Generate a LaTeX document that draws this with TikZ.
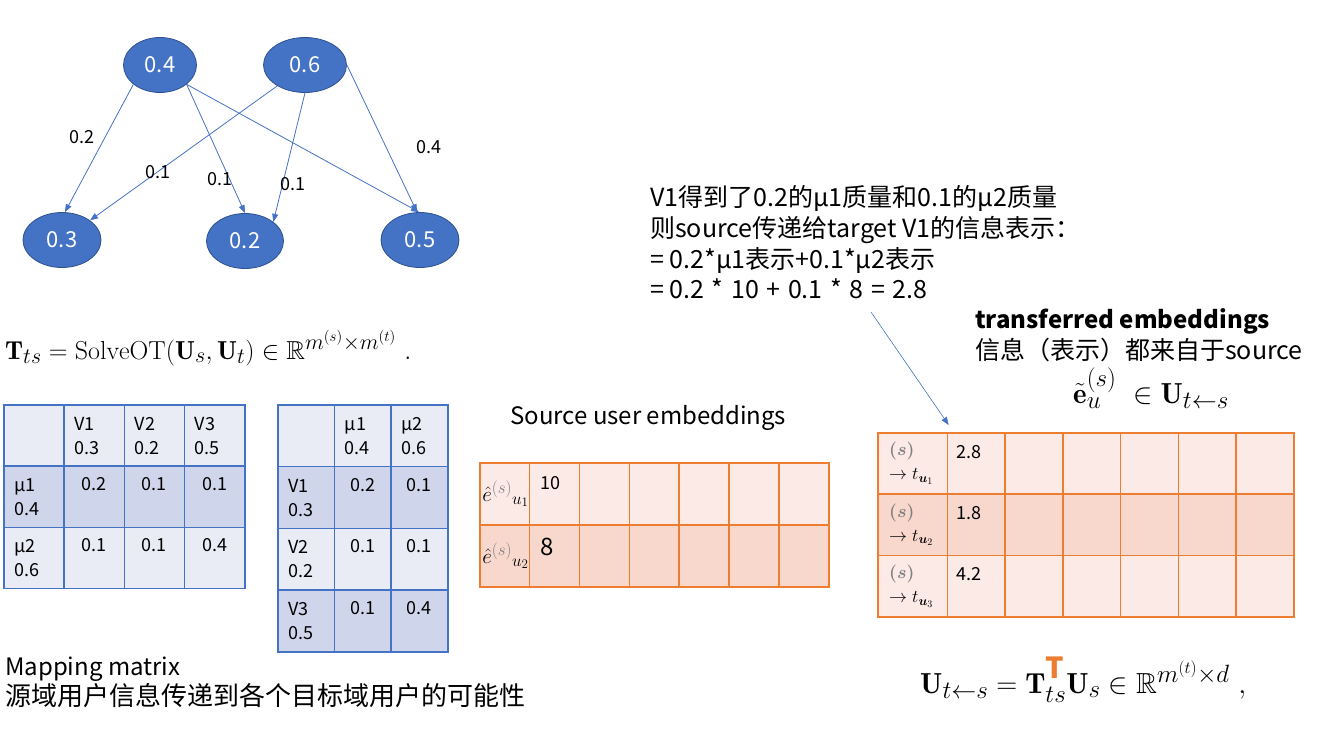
\RequirePackage{fix-cm}
\documentclass[tikz,border=0pt]{standalone}
\usepackage{amsmath,amssymb}
\usepackage{fontspec}
\newfontfamily\cjk{Noto Sans CJK SC}
\usetikzlibrary{arrows.meta, positioning, shapes.geometric}

\DeclareMathSizes{18}{18}{13}{10}
\DeclareMathSizes{21}{21}{17}{13}
\DeclareMathSizes{26}{26}{22}{15}
\DeclareMathSizes{29}{29}{25}{17}

\definecolor{massblue}{HTML}{4472C4}
\definecolor{massedge}{HTML}{2F528F}
\definecolor{bandlight}{HTML}{E9EBF5}
\definecolor{banddark}{HTML}{CFD5EA}
\definecolor{embedorange}{HTML}{ED7D31}
\definecolor{peachlight}{HTML}{FBEAE6}
\definecolor{peachdark}{HTML}{F8D7CD}
\definecolor{supgray}{HTML}{808080}

\begin{document}
\begin{tikzpicture}[
    x=1pt, y=-1pt,
    every node/.style={font=\cjk\fontsize{18}{22}\selectfont, inner sep=0pt},
    mass/.style={ellipse, draw=massedge, line width=0.8pt, fill=massblue, text=white, minimum width=78pt, minimum height=55pt, font=\cjk\fontsize{22}{26}\selectfont},
    flow/.style={-{Triangle[length=8pt, width=6pt]}, massblue, line width=0.8pt},
    weight/.style={font=\cjk\fontsize{18}{22}\selectfont},
    big/.style={font=\cjk\fontsize{24}{30}\selectfont, anchor=base west},
    formula/.style={font=\fontsize{26}{30}\selectfont, anchor=base west},
    otcell/.style={rectangle, draw=massblue, line width=1.5pt, anchor=north west},
    embcell/.style={rectangle, draw=embedorange, line width=1.5pt, anchor=north west},
    entry/.style={anchor=north west, align=left, font=\cjk\fontsize{18}{24}\selectfont},
    value/.style={anchor=north, font=\cjk\fontsize{18}{22}\selectfont}
]
\useasboundingbox (0,0) rectangle (1335,732);

% Source masses (top) and target masses (bottom)
\node[mass, minimum width=73pt] (mu1) at (160,65) {0.4};
\node[mass, minimum width=83pt] (mu2) at (305,65) {0.6};
\node[mass] (v1) at (62,240) {0.3};
\node[mass, minimum width=77pt] (v2) at (245,241) {0.2};
\node[mass] (v3) at (420,240) {0.5};

% Transport plan
\draw[flow] (mu1.216) -- (v1.84);
\draw[flow] (mu2.217) -- (v1.35);
\draw[flow] (mu1.324) -- (v2.90);
\draw[flow] (mu2.270) -- (v2.34);
\draw[flow] (mu1.324) -- (v3.92);
\draw[flow] (mu2.0) -- (v3.96);

% Transported mass
\node[weight] (w11) at (82,137) {0.2};
\node[weight] (w21) at (158,172) {0.1};
\node[weight] (w12) at (220,179) {0.1};
\node[weight] (w22) at (293,184) {0.1};
\node[weight] (w23) at (429,147) {0.4};

% OT problem
\node[formula] (otdef) at (5,359) {$\mathbf{T}_{ts}=\mathrm{SolveOT}(\mathbf{U}_s,\mathbf{U}_t)\in\mathbb{R}^{m^{(s)}\times m^{(t)}}\ .$};

% Mapping matrix, rows mu / columns V
\foreach \c in {0,...,3} {
    \node[otcell, fill=bandlight, minimum width=60.25pt, minimum height=61.3pt] (pa-0-\c) at ({3+60.25*\c},404) {};
    \node[otcell, fill=banddark, minimum width=60.25pt, minimum height=61.3pt] (pa-1-\c) at ({3+60.25*\c},465.3) {};
    \node[otcell, fill=bandlight, minimum width=60.25pt, minimum height=61.3pt] (pa-2-\c) at ({3+60.25*\c},526.6) {};
}
\foreach \c/\t in {1/{V1\\0.3}, 2/{V2\\0.2}, 3/{V3\\0.5}}
    \node[entry] (pa-h-\c) at ([xshift=11pt, yshift=-13pt]pa-0-\c.north west) {\t};
\node[entry] (pa-l-1) at ([xshift=11pt, yshift=-13pt]pa-1-0.north west) {μ1\\0.4};
\node[entry] (pa-l-2) at ([xshift=11pt, yshift=-13pt]pa-2-0.north west) {μ2\\0.6};
\foreach \c/\t in {1/0.2, 2/0.1, 3/0.1}
    \node[value] (pa-v-1-\c) at ([yshift=-12pt]pa-1-\c.north) {\t};
\foreach \c/\t in {1/0.1, 2/0.1, 3/0.4}
    \node[value] (pa-v-2-\c) at ([yshift=-12pt]pa-2-\c.north) {\t};

% Mapping matrix, rows V / columns mu
\foreach \c in {0,...,2} {
    \node[otcell, fill=bandlight, minimum width=56.67pt, minimum height=61.75pt] (pb-0-\c) at ({277+56.67*\c},404) {};
    \node[otcell, fill=banddark, minimum width=56.67pt, minimum height=61.75pt] (pb-1-\c) at ({277+56.67*\c},465.75) {};
    \node[otcell, fill=bandlight, minimum width=56.67pt, minimum height=61.75pt] (pb-2-\c) at ({277+56.67*\c},527.5) {};
    \node[otcell, fill=banddark, minimum width=56.67pt, minimum height=61.75pt] (pb-3-\c) at ({277+56.67*\c},589.25) {};
}
\node[entry] (pb-h-1) at ([xshift=11pt, yshift=-13pt]pb-0-1.north west) {μ1\\0.4};
\node[entry] (pb-h-2) at ([xshift=11pt, yshift=-13pt]pb-0-2.north west) {μ2\\0.6};
\foreach \r/\t in {1/{V1\\0.3}, 2/{V2\\0.2}, 3/{V3\\0.5}}
    \node[entry] (pb-l-\r) at ([xshift=11pt, yshift=-13pt]pb-\r-0.north west) {\t};
\foreach \r/\a/\b in {1/0.2/0.1, 2/0.1/0.1, 3/0.1/0.4} {
    \node[value] (pb-v-\r-1) at ([yshift=-12pt]pb-\r-1.north) {\a};
    \node[value] (pb-v-\r-2) at ([yshift=-12pt]pb-\r-2.north) {\b};
}

\node[big] (maptitle) at (5,675) {Mapping matrix};
\node[big, font=\cjk\fontsize{26}{30}\selectfont] (mapnote) at (5,705) {源域用户信息传递到各个目标域用户的可能性};

% Source user embeddings
\node[big] (srctitle) at (510,424) {Source user embeddings};
\foreach \c in {0,...,6} {
    \node[embcell, fill=peachlight, minimum width=49.86pt, minimum height=62pt] (se-0-\c) at ({479+49.86*\c},462) {};
    \node[embcell, fill=peachdark, minimum width=49.86pt, minimum height=62pt] (se-1-\c) at ({479+49.86*\c},524) {};
}
\node[font=\fontsize{21}{24}\selectfont] (se-l-0) at ([xshift=1pt]se-0-0.center) {$\hat{e}^{\color{supgray}(s)}_{u_1}$};
\node[font=\fontsize{21}{24}\selectfont] (se-l-1) at ([xshift=1pt]se-1-0.center) {$\hat{e}^{\color{supgray}(s)}_{u_2}$};
\node[entry] (se-v-0) at ([xshift=11pt, yshift=-14pt]se-0-1.north west) {10};
\node[entry, font=\cjk\fontsize{24}{28}\selectfont] (se-v-1) at ([xshift=11pt, yshift=-14pt]se-1-1.north west) {8};

% How V1 receives its information
\node[big, font=\cjk\fontsize{25}{30}\selectfont] (note1) at (650,206) {V1得到了0.2的μ1质量和0.1的μ2质量};
\node[big, font=\cjk\fontsize{25}{30}\selectfont] (note2) at (650,237) {则source传递给target V1的信息表示：};
\node[big, font=\cjk\fontsize{25}{30}\selectfont] (note3) at (650,268) {= 0.2*μ1表示+0.1*μ2表示};
\node[big, font=\cjk\fontsize{25}{30}\selectfont] (note4) at (650,298) {= 0.2\hspace{2pt} *\hspace{2pt} 10\hspace{2pt} +\hspace{2pt} 0.1\hspace{2pt} *\hspace{2pt} 8\hspace{2pt} =\hspace{2pt} 2.8};

% Transferred embeddings
\node[big, font=\cjk\bfseries\fontsize{24}{30}\selectfont] (trtitle) at (975,328) {transferred embeddings};
\node[big, font=\cjk\fontsize{25}{30}\selectfont] (trnote) at (975,359) {信息（表示）都来自于source};
\node[formula, font=\fontsize{29}{32}\selectfont] (trdef) at (1073,403) {$\tilde{\mathbf{e}}^{(s)}_{u}\ \in\mathbf{U}_{t\leftarrow s}$};

\foreach \r/\f in {0/peachlight, 1/peachdark, 2/peachlight} {
    \node[embcell, fill=\f, minimum width=69.7pt, minimum height=61.33pt] (tr-\r-0) at (877,{432+61.33*\r}) {};
    \foreach \c in {1,...,6}
        \node[embcell, fill=\f, minimum width=57.72pt, minimum height=61.33pt] (tr-\r-\c) at ({946.7+57.72*(\c-1)},{432+61.33*\r}) {};
}
\foreach \r/\u/\t in {0/1/2.8, 1/2/1.8, 2/3/4.2} {
    \node[entry] (tr-l-\r) at ([xshift=12pt, yshift=-10pt]tr-\r-0.north west) {$\color{supgray}\boldsymbol{(s)}$\\$\to t_{\boldsymbol{u}_\u}$};
    \node[entry] (tr-v-\r) at ([xshift=10pt, yshift=-13pt]tr-\r-1.north west) {\t};
}

\coordinate (noteend) at (871,312);
\draw[flow, line width=0.6pt] (noteend) -- ([xshift=2pt, yshift=7pt]tr-0-1.north west);

\node[formula, font=\fontsize{29}{32}\selectfont] (transfer) at (920,693) {$\mathbf{U}_{t\leftarrow s}=\mathbf{T}_{ts}^{\raisebox{4pt}{\textcolor{embedorange}{\cjk\bfseries T}}}\mathbf{U}_s\in\mathbb{R}^{m^{(t)}\times d}\ ,$};

\end{tikzpicture}
\end{document}
